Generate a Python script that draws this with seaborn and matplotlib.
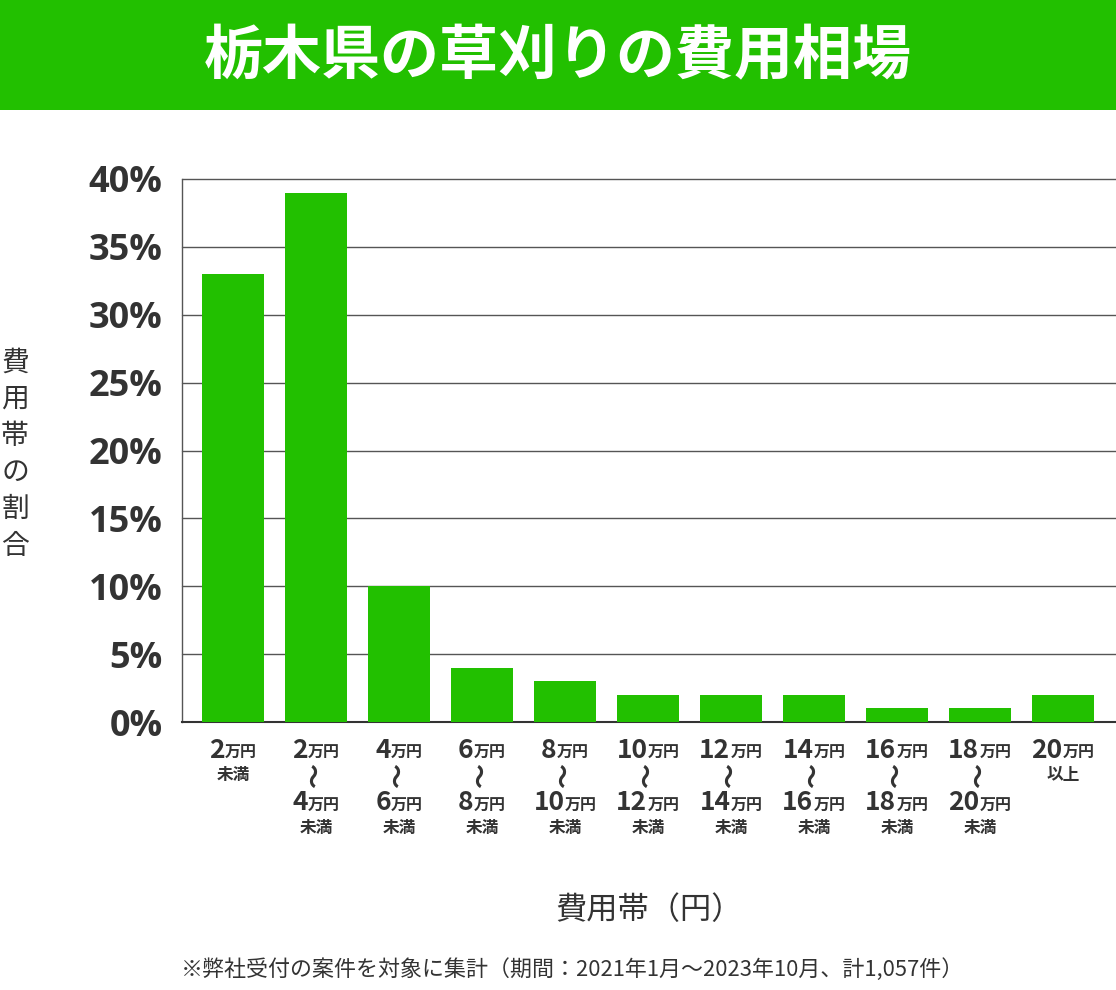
import matplotlib
matplotlib.use("Agg")
import matplotlib.pyplot as plt
import matplotlib.transforms as mtransforms
from matplotlib.patches import Rectangle
from matplotlib.offsetbox import TextArea, HPacker, AnnotationBbox
import seaborn as sns
import pandas as pd

# ---- data ----
range_low = ["", "2", "4", "6", "8", "10", "12", "14", "16", "18", "20"]
range_high = ["2", "4", "6", "8", "10", "12", "14", "16", "18", "20", ""]
categories = ["2万円未満", "2万円～4万円未満", "4万円～6万円未満", "6万円～8万円未満",
              "8万円～10万円未満", "10万円～12万円未満", "12万円～14万円未満",
              "14万円～16万円未満", "16万円～18万円未満", "18万円～20万円未満", "20万円以上"]
shares = [33, 39, 10, 4, 3, 2, 2, 2, 1, 1, 2]
y_ticks = [0, 5, 10, 15, 20, 25, 30, 35, 40]

title = "栃木県の草刈りの費用相場"
y_label = "費用帯の割合"
x_label = "費用帯（円）"
footnote = "※弊社受付の案件を対象に集計（期間：2021年1月～2023年10月、計1,057件）"

GREEN = "#22C000"
DARK = "#333333"

sns.set_theme(style="white")
plt.rcParams["font.family"] = ["Noto Sans CJK JP", "DejaVu Sans"]

W, H = 1116, 990
fig = plt.figure(figsize=(W / 100, H / 100), dpi=100)
fig.patch.set_facecolor("white")

# banner
fig.patches.append(Rectangle((0, 1 - 110 / H), 1, 110 / H, transform=fig.transFigure,
                             facecolor=GREEN, edgecolor="none", zorder=0))
fig.text(0.5, 1 - 57 / H, title, color="white", fontsize=42.5, fontweight="bold",
         ha="center", va="center")

ax_left, ax_right = 182 / W, 1.0
ax_bottom, ax_top = 1 - 722 / H, 1 - 179 / H
ax = fig.add_axes([ax_left, ax_bottom, ax_right - ax_left, ax_top - ax_bottom])

df = pd.DataFrame({"cat": categories, "share": shares})
sns.barplot(data=df, x="cat", y="share", color=GREEN, saturation=1, width=0.75,
            linewidth=0, edgecolor="none", ax=ax, zorder=3)

ax.set_xlim(-0.614, 10.64)
ax.set_ylim(0, 40)
ax.set_yticks(y_ticks)
ax.set_yticklabels([f"{v}%" for v in y_ticks])
for lab in ax.get_yticklabels():
    lab.set_fontfamily(["Open Sans", "DejaVu Sans"])
    lab.set_fontweight("bold")
    lab.set_fontsize(26)
    lab.set_color(DARK)
ax.tick_params(axis="y", length=0, pad=14)
ax.set_xticks(range(len(categories)))
ax.set_xticklabels([])
ax.tick_params(axis="x", length=0)
ax.set_xlabel("")
ax.set_ylabel("")
for v in y_ticks[1:]:
    ax.axhline(v, color="#555555", linewidth=1, zorder=1, clip_on=False)
for s in ["top", "right"]:
    ax.spines[s].set_visible(False)
ax.spines["left"].set_color("#555555")
ax.spines["left"].set_linewidth(1)
ax.spines["bottom"].set_color(DARK)
ax.spines["bottom"].set_linewidth(1.5)
ax.set_facecolor("white")

blend = mtransforms.blended_transform_factory(ax.transData, fig.transFigure)


def fy(px):
    return 1 - px / H


def num_label(x, ypx, num):
    a = TextArea(num, textprops=dict(fontsize=19, fontweight="bold", color=DARK))
    b = TextArea("万円", textprops=dict(fontsize=11.5, fontweight="bold", color=DARK))
    box = HPacker(children=[a, b], align="baseline", pad=0, sep=0)
    ab = AnnotationBbox(box, (x, fy(ypx)), xycoords=blend, frameon=False,
                        box_alignment=(0.5, 0.5), pad=0, annotation_clip=False)
    fig.add_artist(ab)


def small(x, ypx, s):
    fig.text(0, 0, s, transform=blend, fontsize=12, fontweight="bold", color=DARK,
             ha="center", va="center").set_position((x, fy(ypx)))


for i, (lo, hi) in enumerate(zip(range_low, range_high)):
    if lo == "":
        num_label(i, 750, hi)
        small(i, 775, "未満")
    elif hi == "":
        num_label(i, 750, lo)
        small(i, 775, "以上")
    else:
        num_label(i, 750, lo)
        t = fig.text(0, 0, "～", transform=blend, fontsize=18, fontweight="bold",
                     color=DARK, ha="center", va="center", rotation=90)
        t.set_position((i, fy(776)))
        num_label(i, 803, hi)
        small(i, 828, "未満")

# y label, stacked characters
fig.text(15 / W, fy(454), "\n".join(y_label), fontsize=20, color=DARK,
         ha="center", va="center", linespacing=1.29)
fig.text(649 / W, fy(910), x_label, fontsize=22.5, color=DARK,
         ha="center", va="center")
fig.text(572 / W, fy(970), footnote, fontsize=15.8, color=DARK,
         ha="center", va="center")

fig.savefig("out.png", dpi=100, facecolor="white")
